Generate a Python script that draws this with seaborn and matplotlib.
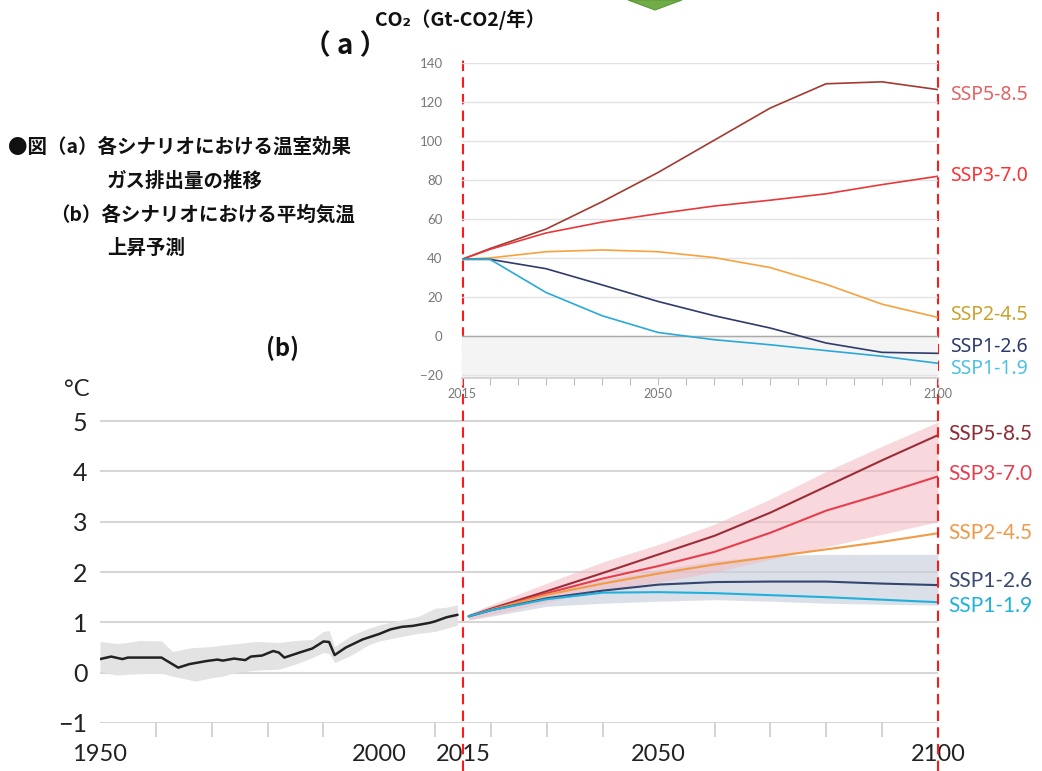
import numpy as np
import pandas as pd
import matplotlib.pyplot as plt
import seaborn as sns
from matplotlib.transforms import blended_transform_factory
from matplotlib.patches import Polygon

scenarios = ["SSP5-8.5", "SSP3-7.0", "SSP2-4.5", "SSP1-2.6", "SSP1-1.9"]

# (a) CO2 排出量 (Gt-CO2/年)
co2_years = [2015, 2020, 2030, 2040, 2050, 2060, 2070, 2080, 2090, 2100]
co2_ssp585 = [39.5, 45.0, 55.0, 69.0, 84.0, 100.5, 117.0, 129.5, 130.5, 126.5]
co2_ssp370 = [39.5, 44.6, 53.0, 58.6, 62.9, 66.8, 69.8, 73.1, 77.8, 82.1]
co2_ssp245 = [39.5, 40.2, 43.4, 44.3, 43.4, 40.4, 35.3, 26.7, 16.5, 9.7]
co2_ssp126 = [39.5, 39.5, 34.7, 26.4, 17.9, 10.6, 4.3, -3.4, -8.2, -8.7]
co2_ssp119 = [39.5, 39.5, 22.5, 10.6, 2.0, -1.7, -4.3, -7.3, -10.2, -13.8]

# (b) 平均気温上昇 (°C) 観測
hist_years = [1950, 1952, 1954, 1955, 1958, 1961, 1964, 1966, 1969, 1971, 1972,
              1974, 1976, 1977, 1979, 1981, 1982, 1983, 1986, 1988, 1990, 1991,
              1992, 1994, 1997, 2000, 2002, 2004, 2006, 2009, 2010, 2012, 2014]
hist_temp = [0.27, 0.32, 0.27, 0.30, 0.30, 0.30, 0.10, 0.17, 0.23, 0.26, 0.24,
             0.28, 0.25, 0.32, 0.34, 0.43, 0.40, 0.30, 0.41, 0.48, 0.62, 0.61,
             0.35, 0.50, 0.66, 0.77, 0.86, 0.91, 0.93, 0.99, 1.02, 1.10, 1.15]
band_years = [1950, 1953, 1955, 1957, 1961, 1963, 1966, 1967, 1970, 1972, 1974, 1978,
              1982, 1985, 1988, 1990, 1991, 1992, 1995, 1998, 2000, 2004, 2007, 2010,
              2012, 2014]
band_hi = [0.62, 0.58, 0.60, 0.64, 0.63, 0.42, 0.49, 0.50, 0.52, 0.55, 0.57, 0.62,
           0.60, 0.64, 0.66, 0.82, 0.84, 0.52, 0.74, 0.88, 0.95, 1.05, 1.12, 1.28,
           1.30, 1.35]
band_lo = [0.02, -0.05, -0.03, -0.02, -0.01, -0.07, -0.14, -0.17, -0.10, -0.07, 0.00,
           0.05, 0.07, 0.17, 0.30, 0.40, 0.38, 0.20, 0.35, 0.55, 0.63, 0.72, 0.78,
           0.82, 0.88, 0.95]

# (b) シナリオ別予測
proj_years = [2016, 2020, 2030, 2040, 2050, 2060, 2070, 2080, 2090, 2100]
t_ssp585 = [1.12, 1.27, 1.62, 1.98, 2.35, 2.72, 3.18, 3.70, 4.22, 4.72]
t_ssp370 = [1.12, 1.25, 1.58, 1.87, 2.12, 2.40, 2.78, 3.22, 3.55, 3.90]
t_ssp245 = [1.12, 1.25, 1.55, 1.77, 1.97, 2.15, 2.30, 2.45, 2.60, 2.77]
t_ssp126 = [1.12, 1.24, 1.48, 1.63, 1.75, 1.80, 1.81, 1.81, 1.77, 1.74]
t_ssp119 = [1.12, 1.24, 1.46, 1.59, 1.60, 1.58, 1.54, 1.50, 1.45, 1.40]
pink_hi = [1.17, 1.35, 1.78, 2.20, 2.55, 2.95, 3.45, 4.00, 4.50, 4.98]
pink_lo = [1.05, 1.15, 1.40, 1.65, 1.80, 2.00, 2.25, 2.50, 2.75, 3.00]
grey_hi = [1.17, 1.33, 1.60, 1.85, 2.05, 2.22, 2.33, 2.35, 2.35, 2.35]
grey_lo = [1.05, 1.12, 1.32, 1.38, 1.42, 1.45, 1.42, 1.38, 1.36, 1.34]

line_a = ["#a33a32", "#e8383a", "#f7a23e", "#2f3b6a", "#2aa9d9"]
text_a = ["#e06464", "#ff3030", "#c9a22c", "#2b3a6b", "#4cc2e0"]
line_b = ["#9c2c38", "#e63e4c", "#f29b45", "#34456f", "#1fb1dc"]
text_b = ["#8e2b36", "#e5404f", "#f0994a", "#3a4a72", "#1fb2dc"]

co2 = pd.DataFrame({
    "year": co2_years * 5,
    "value": co2_ssp585 + co2_ssp370 + co2_ssp245 + co2_ssp126 + co2_ssp119,
    "scenario": np.repeat(scenarios, len(co2_years)),
})
temp = pd.DataFrame({
    "year": proj_years * 5,
    "value": t_ssp585 + t_ssp370 + t_ssp245 + t_ssp126 + t_ssp119,
    "scenario": np.repeat(scenarios, len(proj_years)),
})
hist = pd.DataFrame({"year": hist_years, "value": hist_temp})

sns.set_theme(style="white")
plt.rcParams["font.family"] = ["Lato", "Noto Sans CJK JP", "DejaVu Sans"]
plt.rcParams["axes.unicode_minus"] = True

W, H = 1042, 771
fig = plt.figure(figsize=(W / 100, H / 100), dpi=100)


def box(l, t, r, b):
    return [l / W, 1 - b / H, (r - l) / W, (b - t) / H]


ax_b = fig.add_axes(box(100, 418, 938, 723))
ax_a = fig.add_axes(box(462, 63.3, 938, 378.3))

# ---------- (b) 気温 ----------
ax_b.fill_between(band_years, band_lo, band_hi, color="#e3e3e3", lw=0, zorder=1)
ax_b.fill_between(proj_years, grey_lo, grey_hi, color="#c9cfdc", alpha=0.65, lw=0, zorder=1)
ax_b.fill_between(proj_years, pink_lo, pink_hi, color="#f4b9c1", alpha=0.55, lw=0, zorder=1)
sns.lineplot(data=hist, x="year", y="value", color="#222222", lw=1.8, ax=ax_b, zorder=3)
sns.lineplot(data=temp, x="year", y="value", hue="scenario", hue_order=scenarios,
             palette=line_b, lw=1.5, legend=False, ax=ax_b, zorder=3)

ax_b.set_xlim(1950, 2100)
ax_b.set_ylim(-1, 5.06)
ax_b.set_yticks(range(-1, 6))
ax_b.set_xticks([1950, 2000, 2015, 2050, 2100])
ax_b.set_xticks(range(1950, 2101, 10), minor=True)
ax_b.tick_params(axis="x", which="major", length=0, pad=15, labelsize=17, labelcolor="#222222")
ax_b.tick_params(axis="x", which="minor", length=10, width=1.2, color="#cccccc", bottom=True)
ax_b.tick_params(axis="y", length=0, pad=9, labelsize=18, labelcolor="#222222")
ax_b.grid(axis="y", color="#d6d6d6", lw=1.5)
ax_b.grid(axis="x", visible=False)
for s in ax_b.spines.values():
    s.set_visible(False)
ax_b.set_xlabel("")
ax_b.set_ylabel("")
fig.text(64 / W, 1 - 389 / H, "°C", fontsize=17, color="#222222", va="center")

nudge_b = [0.03, 0.04, 0.0, 0.08, -0.08]
ends_b = [t_ssp585[-1], t_ssp370[-1], t_ssp245[-1], t_ssp126[-1], t_ssp119[-1]]
for name, c, yv, dy in zip(scenarios, text_b, ends_b, nudge_b):
    ax_b.text(2101.8, yv + dy, name, color=c, fontsize=15, va="center", clip_on=False)

# ---------- (a) CO2 ----------
ax_a.set_facecolor("none")
ylo = -21.5
ax_a.axhspan(ylo, 0, color="#f4f4f4", lw=0, zorder=0)
ax_a.axhline(0, color="#aaaaaa", lw=1, zorder=1)
sns.lineplot(data=co2, x="year", y="value", hue="scenario", hue_order=scenarios,
             palette=line_a, lw=1.2, legend=False, ax=ax_a, zorder=3)
ax_a.set_xlim(2015, 2100)
ax_a.set_ylim(ylo, 140)
ax_a.set_yticks(range(-20, 141, 20))
ax_a.set_xticks([2015, 2050, 2100])
ax_a.set_xticks(range(2015, 2101, 5), minor=True)
ax_a.tick_params(axis="x", which="both", length=5, width=0.8, color="#bbbbbb", bottom=True,
                 pad=2, labelsize=9, labelcolor="#777777")
ax_a.tick_params(axis="y", length=0, pad=14, labelsize=9.5, labelcolor="#777777")
ax_a.grid(axis="y", color="#e3e3e3", lw=1)
ax_a.grid(axis="x", visible=False)
for k, s in ax_a.spines.items():
    s.set_visible(k == "bottom")
ax_a.spines["bottom"].set_color("#d0d0d0")
ax_a.set_xlabel("")
ax_a.set_ylabel("")

nudge_a = [-3, 0, 1.5, 3, -3]
ends_a = [co2_ssp585[-1], co2_ssp370[-1], co2_ssp245[-1], co2_ssp126[-1], co2_ssp119[-1]]
for name, c, yv, dy in zip(scenarios, text_a, ends_a, nudge_a):
    ax_a.text(2102.1, yv + dy, name, color=c, fontsize=14, va="center", clip_on=False,
              family=["Noto Sans", "DejaVu Sans"])

# ---------- 赤い破線 ----------
tr = blended_transform_factory(ax_b.transData, fig.transFigure)
ax_b.plot([2015, 2015], [0, 1 - 60 / H], transform=tr, color="#ff1a1a", lw=1.5,
          ls=(0, (5, 3)), clip_on=False, zorder=10)
ax_b.plot([2100, 2100], [0, 1 - 12 / H], transform=tr, color="#ff1a1a", lw=1.5,
          ls=(0, (5, 3)), clip_on=False, zorder=10)

# ---------- 文字 ----------
jp = ["Noto Sans CJK JP", "DejaVu Sans"]
fig.text(303 / W, 1 - 46 / H, "（ a ）", fontsize=20, fontweight="bold", family=jp,
         va="center", color="#111111")
fig.text(375 / W, 1 - 20 / H, "CO₂（Gt-CO2/年）", fontsize=14, fontweight="bold",
         family=jp, va="center", color="#111111")
fig.text(266 / W, 1 - 348 / H, "(b)", fontsize=17, fontweight="bold", family=jp,
         va="center", color="#111111")

cap_kw = dict(fontsize=14, fontweight="bold", family=jp, va="center", color="#111111")
fig.text(8 / W, 1 - 147 / H, "●図（a）各シナリオにおける温室効果", **cap_kw)
fig.text(107 / W, 1 - 181 / H, "ガス排出量の推移", **cap_kw)
fig.text(50 / W, 1 - 215 / H, "（b）各シナリオにおける平均気温", **cap_kw)
fig.text(107 / W, 1 - 248 / H, "上昇予測", **cap_kw)

# 上部の緑の矢印
fig.patches.append(Polygon([(628 / W, 1.0), (682 / W, 1.0), (655 / W, 1 - 10 / H)],
                           closed=True, transform=fig.transFigure, facecolor="#70ad47",
                           edgecolor="#5e9a3a", lw=0.8))

fig.savefig("out.png", dpi=100)
